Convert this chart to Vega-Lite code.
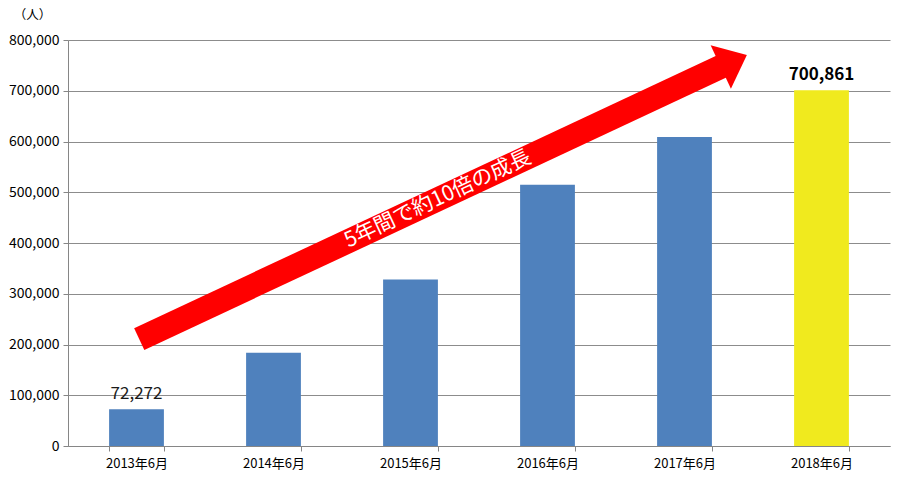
{
  "$schema": "https://vega.github.io/schema/vega-lite/v6.json",
  "width": 822,
  "height": 406,
  "autosize": {"type": "none"},
  "padding": {"left": 68, "top": 40, "right": 12, "bottom": 34},
  "background": "white",
  "config": {"view": {"stroke": null}, "font": "Noto Sans CJK JP"},
  "datasets": {
    "bars": [
      {"month": "2013年6月", "value": 72272, "group": "normal"},
      {"month": "2014年6月", "value": 183500, "group": "normal"},
      {"month": "2015年6月", "value": 328000, "group": "normal"},
      {"month": "2016年6月", "value": 515000, "group": "normal"},
      {"month": "2017年6月", "value": 609000, "group": "normal"},
      {"month": "2018年6月", "value": 700861, "group": "latest"}
    ],
    "arrow": [
      {"pos": 0.02, "value": 210800},
      {"pos": 4.28, "value": 748800}
    ],
    "head": [{"pos": 4.36, "value": 758600}],
    "note": [{"pos": 2.2, "value": 486000, "text": "5年間で約10倍の成長"}]
  },
  "layer": [
    {
      "data": {"name": "bars"},
      "encoding": {
        "x": {
          "field": "month", "type": "nominal", "sort": null,
          "scale": {"paddingInner": 0.6, "paddingOuter": 0.3},
          "axis": {
            "title": null, "labelAngle": 0, "tickBand": "extent",
            "domainColor": "#868686", "tickColor": "#868686", "tickSize": 5,
            "labelFontSize": 13, "labelColor": "#000000", "labelPadding": 6
          }
        },
        "y": {
          "field": "value", "type": "quantitative",
          "scale": {"domain": [0, 800000], "nice": false},
          "axis": {
            "format": ",d", "values": [0,100000,200000,300000,400000,500000,600000,700000,800000],
            "labelOverlap": false, "labelFlush": false,
            "title": "（人）", "titleAngle": 0, "titleAlign": "center", "titleBaseline": "middle",
            "titleX": -36, "titleY": -26, "titleFontWeight": "normal", "titleFontSize": 12.5, "titleColor": "#000000",
            "gridColor": "#8c8c8c", "gridWidth": 1, "domainColor": "#868686", "tickColor": "#868686",
            "tickSize": 5, "labelFontSize": 14, "labelColor": "#000000", "labelPadding": 4
          }
        }
      },
      "layer": [
        {
          "mark": {"type": "bar"},
          "encoding": {
            "color": {
              "field": "group", "type": "nominal",
              "scale": {"domain": ["normal", "latest"], "range": ["#4F81BD", "#F0EA1E"]},
              "legend": null
            }
          }
        },
        {
          "transform": [{"filter": "datum.month === '2013年6月'"}],
          "mark": {"type": "text", "baseline": "bottom", "dy": -6, "fontSize": 17, "color": "#1a1a1a"},
          "encoding": {
            "text": {"field": "value", "type": "quantitative", "format": ",d"}
          }
        },
        {
          "transform": [{"filter": "datum.month === '2018年6月'"}],
          "mark": {"type": "text", "baseline": "bottom", "dy": -6, "fontSize": 17, "fontWeight": "bold", "color": "#000000"},
          "encoding": {
            "text": {"field": "value", "type": "quantitative", "format": ",d"}
          }
        }
      ]
    },
    {
      "data": {"name": "arrow"},
      "mark": {"type": "line", "color": "#FF0000", "strokeWidth": 24, "strokeCap": "butt"},
      "encoding": {
        "x": {"field": "pos", "type": "quantitative", "scale": {"domain": [-0.5, 5.5], "nice": false, "zero": false}, "axis": null},
        "y": {"field": "value", "type": "quantitative"}
      }
    },
    {
      "data": {"name": "head"},
      "mark": {"type": "point", "shape": "M -0.6 -1 L 0.6 0 L -0.6 1 Z", "filled": true, "color": "#FF0000", "opacity": 1, "size": 2304, "angle": 335, "strokeWidth": 0},
      "encoding": {
        "x": {"field": "pos", "type": "quantitative", "scale": {"domain": [-0.5, 5.5], "nice": false, "zero": false}, "axis": null},
        "y": {"field": "value", "type": "quantitative"}
      }
    },
    {
      "data": {"name": "note"},
      "mark": {"type": "text", "angle": 335, "fontSize": 21, "color": "#FFFFFF", "align": "center", "baseline": "middle"},
      "encoding": {
        "x": {"field": "pos", "type": "quantitative", "scale": {"domain": [-0.5, 5.5], "nice": false, "zero": false}, "axis": null},
        "y": {"field": "value", "type": "quantitative"},
        "text": {"field": "text", "type": "nominal"}
      }
    }
  ],
  "resolve": {"scale": {"x": "independent"}}
}
